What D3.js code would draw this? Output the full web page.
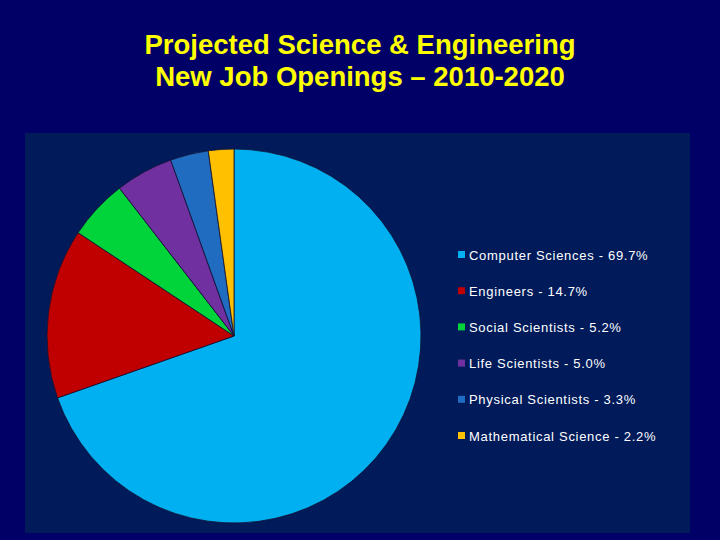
<!DOCTYPE html>
<html><head><meta charset="utf-8">
<script src="https://cdn.jsdelivr.net/npm/d3@7"></script>
<style>html,body{margin:0;padding:0;background:#000066;}svg{display:block;}</style>
</head><body>
<svg id="c" width="720" height="540"></svg>
<script>
const categories = ["Computer Sciences", "Engineers", "Social Scientists", "Life Scientists", "Physical Scientists", "Mathematical Science"];
const values = [69.7, 14.7, 5.2, 5.0, 3.3, 2.2];
const labels = ["Computer Sciences - 69.7%", "Engineers - 14.7%", "Social Scientists - 5.2%", "Life Scientists - 5.0%", "Physical Scientists - 3.3%", "Mathematical Science - 2.2%"];
const colors = ["#00B0F0", "#C00000", "#00D43A", "#7030A0", "#1F6CC0", "#FFC000"];

const svg = d3.select("#c");
svg.append("rect").attr("width",720).attr("height",540).attr("fill","#000066");
svg.append("rect").attr("x",25).attr("y",133).attr("width",665).attr("height",400).attr("fill","#001A5A");

const title = svg.append("text").attr("text-anchor","middle")
  .attr("font-family","Liberation Sans, Arial, sans-serif").attr("font-weight","bold")
  .attr("font-size",27.5).attr("fill","#FFFF00");
title.append("tspan").attr("x",360).attr("y",54).text("Projected Science & Engineering");
title.append("tspan").attr("x",360).attr("y",86).text("New Job Openings – 2010-2020");

const pie = d3.pie().sort(null).value(d=>d);
const arc = d3.arc().innerRadius(0).outerRadius(187);
const g = svg.append("g").attr("transform","translate(234,336)");
g.selectAll("path").data(pie(values)).join("path")
  .attr("d",arc).attr("fill",(d,i)=>colors[i])
  .attr("stroke","#111133").attr("stroke-width",0.8);

const y = d3.scalePoint().domain(categories).range([255,436]);
const leg = svg.append("g");
categories.forEach((c,i)=>{
  leg.append("rect").attr("x",458).attr("y",y(c)-4).attr("width",7).attr("height",7).attr("fill",colors[i]);
  leg.append("text").attr("x",469).attr("y",y(c)+4.5)
    .attr("font-family","Liberation Sans, Arial, sans-serif").attr("font-size",13)
    .attr("letter-spacing","0.7").attr("fill","#FFFFFF").text(labels[i]);
});
</script>
</body></html>
